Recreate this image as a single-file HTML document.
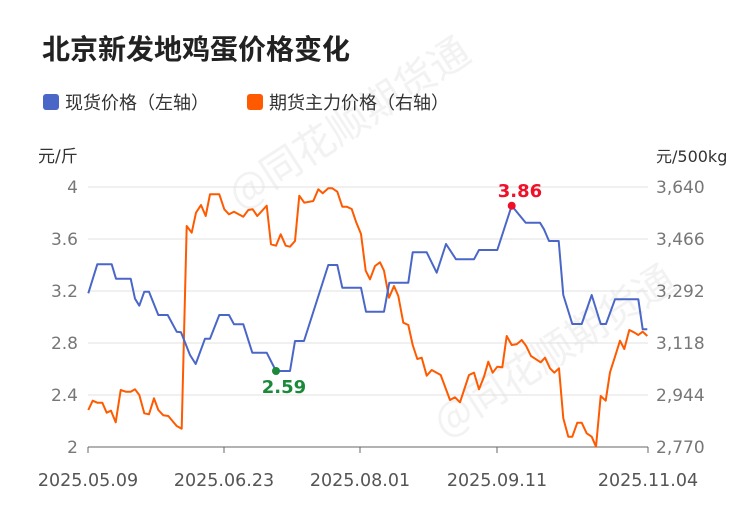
<!DOCTYPE html>
<html><head><meta charset="utf-8"><style>
html,body{margin:0;padding:0;background:#fff;}
svg{display:block;font-family:"DejaVu Sans","Noto Sans CJK SC",sans-serif;}
</style></head><body>
<svg width="750" height="510" viewBox="0 0 750 510">
<g fill="#e4e4e4" opacity="0.5" font-size="40" font-family="Noto Sans CJK SC, sans-serif">
<text transform="translate(240,210) rotate(-33)">@同花顺期货通</text>
<text transform="translate(445,438) rotate(-33)">@同花顺期货通</text>
</g>
<text x="42" y="59" font-size="28" font-weight="bold" fill="#222" font-family="Noto Sans CJK SC, sans-serif">北京新发地鸡蛋价格变化</text>
<rect x="43" y="94" width="16" height="16" rx="3" fill="#4a67c8"/>
<text x="65" y="109" font-size="18" fill="#333" font-family="Noto Sans CJK SC, sans-serif">现货价格（左轴）</text>
<rect x="247" y="94" width="16" height="16" rx="3" fill="#ff5a00"/>
<text x="269" y="109" font-size="18" fill="#333" font-family="Noto Sans CJK SC, sans-serif">期货主力价格（右轴）</text>
<text x="38" y="162" font-size="17" fill="#333">元/斤</text>
<text x="656" y="162" font-size="16" fill="#333">元/500kg</text>
<g stroke="#e0e0e0" stroke-width="1">
<line x1="88" x2="648" y1="187" y2="187"/><line x1="88" x2="648" y1="239" y2="239"/>
<line x1="88" x2="648" y1="291" y2="291"/><line x1="88" x2="648" y1="343" y2="343"/>
<line x1="88" x2="648" y1="395" y2="395"/>
</g>
<line x1="88" x2="648" y1="447" y2="447" stroke="#666"/>
<g stroke="#666"><line x1="88" x2="88" y1="447" y2="453"/><line x1="224" x2="224" y1="447" y2="453"/><line x1="360" x2="360" y1="447" y2="453"/><line x1="497" x2="497" y1="447" y2="453"/><line x1="648" x2="648" y1="447" y2="453"/></g>
<g font-size="17" fill="#777" text-anchor="end">
<text x="78" y="193">4</text><text x="78" y="245">3.6</text><text x="78" y="297">3.2</text><text x="78" y="349">2.8</text><text x="78" y="401">2.4</text><text x="78" y="453">2</text>
</g>
<g font-size="17" fill="#777">
<text x="656" y="193">3,640</text><text x="656" y="245">3,466</text><text x="656" y="297">3,292</text><text x="656" y="349">3,118</text><text x="656" y="401">2,944</text><text x="656" y="453">2,770</text>
</g>
<g font-size="17.5" fill="#555" text-anchor="middle">
<text x="88" y="486">2025.05.09</text><text x="224" y="486">2025.06.23</text><text x="360" y="486">2025.08.01</text><text x="497" y="486">2025.09.11</text><text x="648" y="486">2025.11.04</text>
</g>
<polyline fill="none" stroke="#ff5a00" stroke-width="2" stroke-linejoin="round" points="88.3,410 92.7,400.7 97.3,402.7 102.3,402.7 106.7,412.7 111,410.7 115.7,422.3 120.7,390 125.7,391.7 130.7,391.7 135,389.3 139.3,395 144.3,413.3 149,414.3 154,398.3 158.3,410 163.3,415.3 168.3,416 176.7,426 181.7,428.7 186.7,226 191.7,232.7 196,212.7 201,205 205.7,216 210,194.3 219.3,194.3 224.3,209.3 229,214.3 234,211.7 243.3,216.7 248.3,210 252.7,209.3 257.3,216 266.7,205.7 271,244.3 276,245.7 280.7,234.3 285.7,245.7 290,246.7 295,241 299.3,195.7 304.3,202.7 313.3,201 318.3,189.3 322.7,193.3 328.3,188.3 332.3,188.3 337.3,191.7 342.3,206.7 346.7,206.7 351.7,209 356,221.7 361,234 365.7,270.7 370,279.3 375,266 380,262.3 384,270.7 389,297.7 394,286 398.3,296 403.3,322.7 408.3,325 412.7,345 417.3,359 421.7,357.7 426.7,375.7 431.7,370 440.7,375 450,400 455,397.3 460,402.3 469,375 474,372.7 479,389.3 484,376.7 488.3,361.7 492.7,372.7 497.3,366.7 502.3,367.3 506.7,336 511.7,345 516.7,344.3 521.7,340 526,345.7 531,356 540.7,362.3 545,357.7 550,368.3 554.3,372.7 559,368.3 563.3,418.3 568.3,436.7 572.3,436.7 577.3,422.7 581.7,422.7 586.7,433.3 591.7,436.7 596,446.7 600.7,396 605.7,400.7 610,372.3 615,356.7 620,340.7 624.3,349 629.3,330 634,332.3 638.3,335 642.7,331.7 647.3,336"/>
<polyline fill="none" stroke="#4a67c8" stroke-width="2" stroke-linejoin="round" points="88.3,293.3 97.3,264.3 111.7,264.3 116,278.7 130.7,278.7 135,298.7 139.3,305.7 144.3,291.7 149,291.7 158.3,315 167.7,315 176.7,331.7 181,332.3 190,355 195.7,364 205,338.7 210,338.7 219.3,315 229,315 234,324.3 243.3,324.3 252.3,352.7 266.7,352.7 276,371 290,371 295,341 304,341 328.3,265 337.3,265 342.3,287.7 361,287.7 366,311.7 384,311.7 389.3,282.7 408.3,282.7 412.7,252.3 426.7,252.3 436.7,272.7 446,244 456,259.3 474,259.3 479,250 497.3,250 511.7,205.7 525.7,222.7 540,222.7 544,229.3 549,241 558.7,241 563.3,295 572.3,324 581.7,324 591.7,295 600.7,324 606,324 615,299.3 638.3,299.3 642.7,329.3 647.3,329.3"/>
<circle cx="276" cy="371" r="4" fill="#1a8a3a"/>
<text x="284" y="393" font-size="18" font-weight="bold" fill="#1a8a3a" text-anchor="middle">2.59</text>
<circle cx="511.7" cy="205.7" r="4" fill="#f0102a"/>
<text x="520" y="197" font-size="18" font-weight="bold" fill="#f0102a" text-anchor="middle">3.86</text>
</svg>
</body></html>
